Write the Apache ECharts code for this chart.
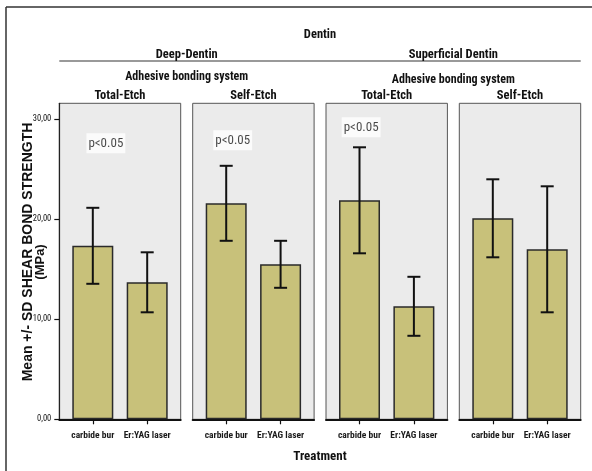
<!DOCTYPE html>
<html>
<head>
<meta charset="utf-8">
<script src="https://cdn.jsdelivr.net/npm/echarts@6/dist/echarts.min.js"></script>
<style>
html,body{margin:0;padding:0;background:#fff;}
#chart{width:592px;height:471px;}
</style>
</head>
<body>
<div id="chart"></div>
<script>
// ---- data ----
var treatments = ["carbide bur", "Er:YAG laser"];
var dentinGroups = ["Deep-Dentin", "Superficial Dentin"];
var panelTitles = ["Total-Etch", "Self-Etch", "Total-Etch", "Self-Etch"];
var meanCarbide = [17.35, 21.6, 21.9, 20.1];
var meanLaser = [13.7, 15.5, 11.3, 17.0];
var sdCarbide = [3.8, 3.75, 5.3, 3.9];
var sdLaser = [3.0, 2.35, 2.95, 6.3];
var yTickValues = [0, 10, 20, 30];
var yTickLabels = ["0,00", "10,00", "20,00", "30,00"];
var pLabelText = "p<0.05";
var pLabelPanel = [0, 1, 2];
var pLabelX = [0.24, 0.12, 0.03];
var pLabelY = [27.6, 27.9, 29.2];

// ---- layout ----
var NARROW = '"Roboto Condensed",sans-serif';
var WIDE = '"Liberation Sans",Arial,sans-serif';
var panelLeft = [59.3, 192.7, 326, 459.3];
var panelW = 121.4;
var panelTop = 103.3;
var panelH = 316;
var xMin = -0.616, xMax = 1.616;
var yMax = 31.6;

var grids = [], xAxes = [], yAxes = [], series = [];
for (var i = 0; i < 4; i++) {
  grids.push({left: panelLeft[i], top: panelTop, width: panelW, height: panelH,
    show: true, backgroundColor: '#ebebeb', borderColor: '#555', borderWidth: 1});
  xAxes.push({type: 'value', gridIndex: i, min: xMin, max: xMax,
    splitLine: {show: false},
    axisLine: {show: true, onZero: false, lineStyle: {color: '#111', width: 2}},
    axisTick: {show: true, customValues: [0, 1], length: 5, lineStyle: {color: '#111', width: 1.2}},
    axisLabel: {show: true, customValues: [0, 1], margin: 11, hideOverlap: false,
      formatter: function (v) { return treatments[Math.round(v)]; },
      fontFamily: NARROW, fontWeight: 'bold', fontSize: 9.5, color: '#1a1a1a'}
  });
  yAxes.push({type: 'value', gridIndex: i, min: 0, max: yMax,
    splitLine: {show: false},
    axisLine: {show: i === 0, onZero: false, lineStyle: {color: '#222', width: 1.2}},
    axisTick: {show: i === 0, customValues: yTickValues, length: 5, lineStyle: {color: '#111', width: 1.2}},
    axisLabel: {show: i === 0, customValues: yTickValues, margin: 8,
      formatter: function (v) { return yTickLabels[yTickValues.indexOf(v)]; },
      fontFamily: NARROW, fontSize: 8.5, color: '#111'}
  });
  series.push({type: 'bar', xAxisIndex: i, yAxisIndex: i, barWidth: 41,
    itemStyle: {color: '#c8c17a', borderColor: '#2a2a2a', borderWidth: 1.5},
    data: [[0, meanCarbide[i]], [1, meanLaser[i]]], z: 2});
  series.push({type: 'custom', xAxisIndex: i, yAxisIndex: i, z: 5,
    data: [[0, meanCarbide[i] - sdCarbide[i], meanCarbide[i] + sdCarbide[i]],
           [1, meanLaser[i] - sdLaser[i], meanLaser[i] + sdLaser[i]]],
    renderItem: function (params, api) {
      var lo = api.coord([api.value(0), api.value(1)]);
      var hi = api.coord([api.value(0), api.value(2)]);
      var hw = 6.5;
      var st = {stroke: '#111', lineWidth: 2};
      return {type: 'group', children: [
        {type: 'line', shape: {x1: hi[0], y1: hi[1], x2: lo[0], y2: lo[1]}, style: st},
        {type: 'line', shape: {x1: hi[0] - hw, y1: hi[1], x2: hi[0] + hw, y2: hi[1]}, style: st},
        {type: 'line', shape: {x1: lo[0] - hw, y1: lo[1], x2: lo[0] + hw, y2: lo[1]}, style: st}
      ]};
    }
  });
}
for (var k = 0; k < pLabelPanel.length; k++) {
  var pi = pLabelPanel[k];
  series.push({type: 'scatter', xAxisIndex: pi, yAxisIndex: pi, symbolSize: 0, z: 6,
    silent: true,
    label: {show: true, position: 'inside', formatter: pLabelText,
      fontFamily: NARROW, fontSize: 13, color: '#1a1a1a', backgroundColor: '#fff', padding: [4, 2, 3, 2]},
    data: [[pLabelX[k], pLabelY[k]]]});
}

// header texts (layout derived from panel positions)
function midOf(a, b) { return (panelLeft[a] + panelLeft[b] + panelW) / 2; }
function hdr(txt, x, y, size) {
  return {type: 'text', x: x, y: y, style: {text: txt, font: 'bold ' + (size || 12.5) + 'px ' + NARROW, fill: '#111', align: 'center', verticalAlign: 'middle'}};
}
var graphics = [
  {type: 'line', shape: {x1: 6, y1: 7, x2: 592, y2: 7}, style: {stroke: '#333', lineWidth: 1.5}},
  {type: 'line', shape: {x1: 6, y1: 7, x2: 6, y2: 471}, style: {stroke: '#333', lineWidth: 1.5}},
  {type: 'line', shape: {x1: panelLeft[0], y1: 61, x2: panelLeft[3] + panelW, y2: 61}, style: {stroke: '#777', lineWidth: 1.5}},
  hdr('Dentin', 320, 35),
  hdr(dentinGroups[0], midOf(0, 1), 55),
  hdr(dentinGroups[1], midOf(2, 3), 55),
  hdr('Adhesive bonding system', midOf(0, 1), 77, 12),
  hdr('Adhesive bonding system', midOf(2, 3), 80, 12),
  hdr('Treatment', 320, 457, 13),
  {type: 'text', x: 28, y: 252, rotation: Math.PI / 2,
    style: {text: 'Mean +/- SD SHEAR BOND STRENGTH', font: 'bold 14px ' + WIDE, fill: '#111', align: 'center', verticalAlign: 'middle'}},
  {type: 'text', x: 40, y: 262, rotation: Math.PI / 2,
    style: {text: '(MPa)', font: 'bold 13px ' + WIDE, fill: '#111', align: 'center', verticalAlign: 'middle'}}
];
for (var j = 0; j < 4; j++) {
  graphics.push(hdr(panelTitles[j], panelLeft[j] + panelW / 2, 96));
}

var chart = echarts.init(document.getElementById('chart'), null, {renderer: 'canvas'});
chart.setOption({
  animation: false,
  backgroundColor: '#fff',
  grid: grids, xAxis: xAxes, yAxis: yAxes, series: series,
  graphic: graphics
});
</script>
</body>
</html>
